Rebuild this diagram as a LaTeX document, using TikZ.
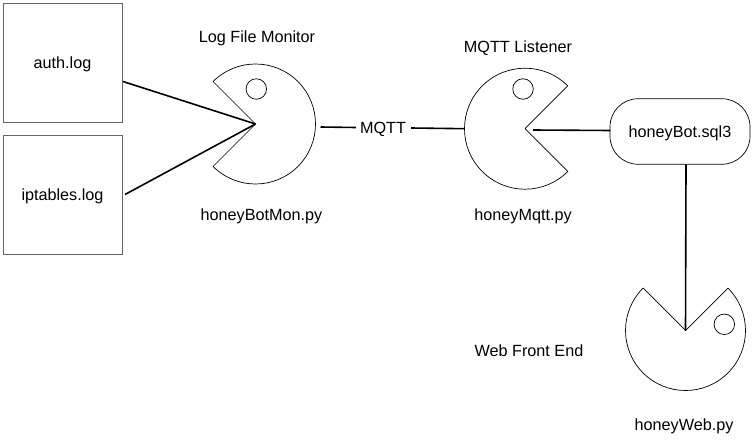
\documentclass[tikz,border=0pt]{standalone}
\usepackage{fontspec}
\setmainfont{Liberation Sans}
\tikzset{
  x=1pt,y=-1pt,
  filebox/.style={draw=black!60,line width=0.9pt,fill=white,minimum width=119.5pt,minimum height=119.5pt,inner sep=0pt,anchor=center},
  dbbox/.style={draw=black,line width=0.7pt,rounded corners=28pt,fill=white,minimum width=140pt,minimum height=65.5pt,inner sep=0pt},
  eyering/.style={draw=black,line width=0.7pt,circle,minimum size=20.5pt,inner sep=0pt},
  body/.style={draw=black,line width=0.7pt,line join=round},
  link/.style={draw=black,line width=1.6pt},
  lbl/.style={inner sep=0pt,font=\fontsize{16.2}{18}\selectfont}
}
\begin{document}
\begin{tikzpicture}
\useasboundingbox (0,0) rectangle (754,441);
% file boxes
\node[filebox,lbl] (auth) at (62.8,62.8) {};
\node[filebox,lbl] (iptables) at (62.8,195) {};
\node[lbl] (tauth) at (62.5,64.5) {auth.log};
\node[lbl] (tipt) at (62.5,196.5) {iptables.log};
% pacman centres
\coordinate (mon) at (255.5,124);
\coordinate (mqttl) at (525,128.7);
\coordinate (web) at (685.5,330.5);
\draw[body] (mon) -- ++(135:60pt) arc[start angle=135,end angle=-135,radius=60pt] -- cycle;
\draw[body] (mqttl) -- ++(45:60.5pt) arc[start angle=45,end angle=315,radius=60.5pt] -- cycle;
\draw[body] (web) -- ++(45:60pt) arc[start angle=45,end angle=-225,radius=60pt] -- cycle;
\node[eyering] (eyemon) at (256.3,89) {};
\node[eyering] (eyemqtt) at (523,89) {};
\node[eyering] (eyeweb) at (724.3,324.3) {};
% database
\node[dbbox] (db) at (680,131.5) {};
\node[lbl] (tdb) at (680,133) {honeyBot.sql3};
% labels
\node[lbl] (tmon) at (257,38.5) {Log File Monitor};
\node[lbl] (tmqtt) at (518,48) {MQTT Listener};
\node[lbl] (tweb) at (529,350.5) {Web Front End};
\node[lbl] (nmon) at (261.5,216) {honeyBotMon.py};
\node[lbl] (nmqtt) at (523,216.5) {honeyMqtt.py};
\node[lbl] (nweb) at (684,426.5) {honeyWeb.py};
\node[lbl] (mq) at (383,129) {MQTT};
% free ends of connectors
\coordinate (a1) at (123,81.5);
\coordinate (i1) at (125,194.5);
\coordinate (m1) at (320.5,127);
\coordinate (m2) at (356,127.5);
\coordinate (m3) at (411,128);
\coordinate (m4) at (464.5,128.7);
\coordinate (l1) at (533,130);
\coordinate (d1) at (610.3,130.5);
\coordinate (d2) at (686,164.5);
% connectors
\draw[link] (a1) -- (mon);
\draw[link] (i1) -- (mon);
\draw[link] (m1) -- (m2);
\draw[link] (m3) -- (m4);
\draw[link] (l1) -- (d1);
\draw[link] (d2) -- (web);
\end{tikzpicture}
\end{document}
